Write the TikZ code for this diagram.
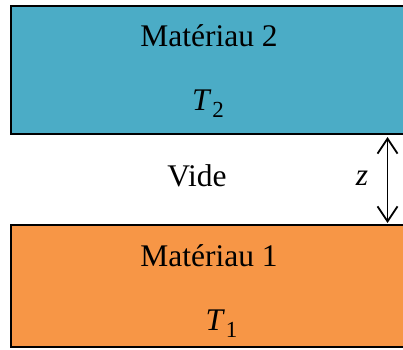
\documentclass[tikz,border=0pt]{standalone}
\usepackage{fontspec}
\setmainfont{Liberation Serif}
\usetikzlibrary{arrows.meta}
\definecolor{matblue}{HTML}{4BACC6}
\definecolor{matorange}{HTML}{F79646}
\newcommand{\tsub}[1]{\textit{T}\kern1pt\raisebox{-7pt}{\fontsize{23}{24}\selectfont #1}}
\tikzset{
  slab/.style={draw=black, line width=2pt, minimum width=400pt, inner sep=0pt, outer sep=0pt},
  lbl/.style={anchor=base, inner sep=0pt, font=\fontsize{31.5}{36}\selectfont},
  gap/.style={line width=1.8pt, {Straight Barb[length=15pt,width=20pt]}-{Straight Barb[length=15pt,width=20pt]}}
}
\begin{document}
\begin{tikzpicture}[x=1pt,y=1pt]
\useasboundingbox (0,0) rectangle (403,349);
\clip (0,0) rectangle (403,349);
\node[slab, fill=matblue, minimum height=127.5pt] (mat2) at (211,279.25) {};
\node[slab, fill=matorange, minimum height=122pt] (mat1) at (211,63) {};
\node[lbl] (m2) at (209,303) {Matériau 2};
\node[lbl] (t2) at (208,239) {\tsub{2}};
\node[lbl] (vide) at (197,163) {Vide};
\node[lbl] (z) at (362,164) {\textit{z}};
\node[lbl] (m1) at (209,83) {Matériau 1};
\node[lbl] (t1) at (221.5,19) {\tsub{1}};
\coordinate (zt) at (387.5,212);
\coordinate (zb) at (387.5,126);
\draw[gap] (zt) -- (zb);
\end{tikzpicture}
\end{document}
